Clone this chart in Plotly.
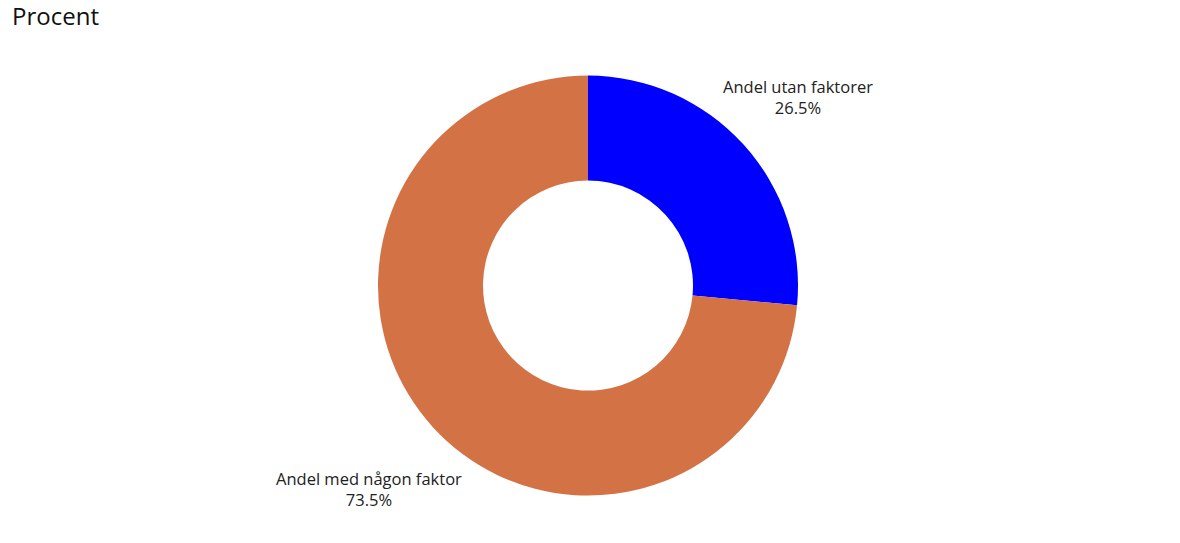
import plotly.graph_objects as go

labels = ["Andel utan faktorer", "Andel med någon faktor"]
values = [26.5, 73.5]
colors = ["#0000ff", "#d37244"]

W, H = 1180, 543
# pie geometry (pixels)
cx, cy, r = 588, 285.6, 210

# label anchor positions (pixels): (x centre, y centre of the two-line block)
label_pos = [(797.5, 97), (368.5, 488.5)]

fig = go.Figure(go.Pie(
    labels=labels,
    values=values,
    hole=0.5,
    sort=False,
    direction="clockwise",
    rotation=0,
    marker=dict(colors=colors, line=dict(width=0)),
    textinfo="none",
    showlegend=False,
    hoverinfo="label+value",
    domain=dict(x=[(cx - r) / W, (cx + r) / W],
                y=[1 - (cy + r) / H, 1 - (cy - r) / H]),
))

annotations = []
for lab, val, (px, py) in zip(labels, values, label_pos):
    annotations.append(dict(
        text=f"{lab}<br>{val}%", x=px / W, y=1 - py / H, xref="paper", yref="paper",
        xanchor="center", yanchor="middle", align="center", showarrow=False,
        font=dict(family="Open Sans", size=16.5, color="#222222"),
    ))

fig.update_layout(
    width=W, height=H,
    title=dict(text="Procent", x=12 / W, xanchor="left", y=1 - 16.5 / H, yanchor="middle",
               font=dict(family="Open Sans", size=24, color="#111111")),
    margin=dict(l=0, r=0, t=0, b=0),
    annotations=annotations,
    paper_bgcolor="white",
    plot_bgcolor="white",
    font=dict(family="Open Sans"),
)

fig.write_html("out.html",
               config={"displayModeBar": False},
               post_script="document.body.style.margin='0';document.body.style.overflow='hidden';")
